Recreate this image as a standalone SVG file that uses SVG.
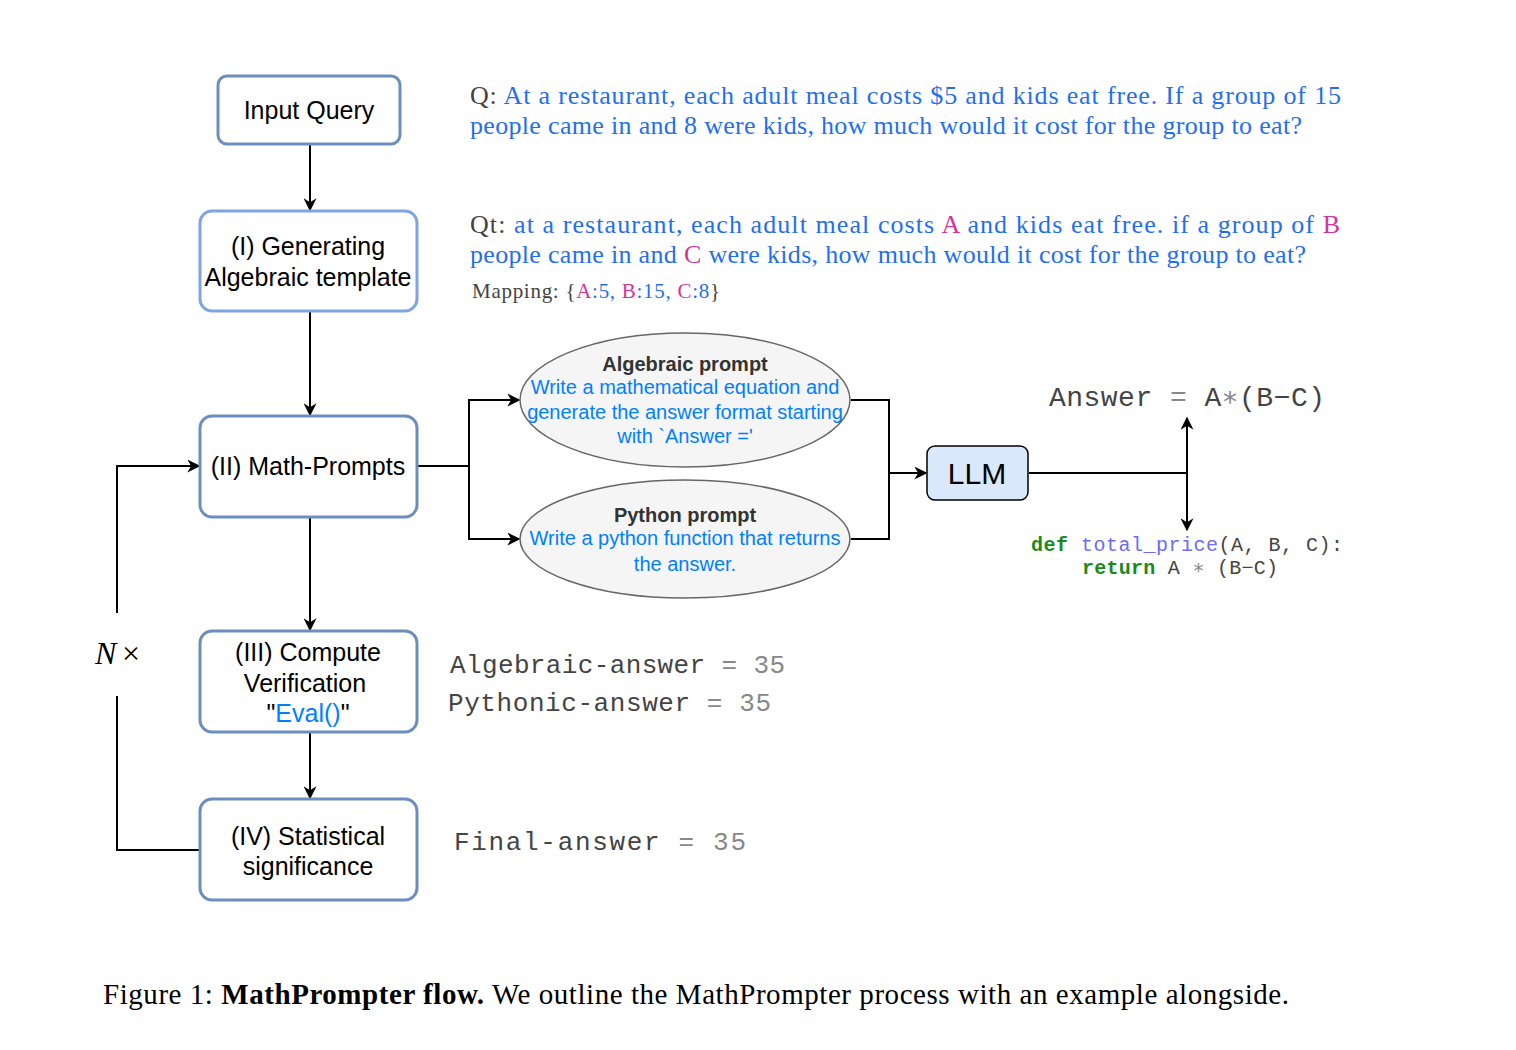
<svg xmlns="http://www.w3.org/2000/svg" width="1516" height="1050" viewBox="0 0 1516 1050">
<style>
.box{fill:#fff;stroke:#6c8ebf;stroke-width:3}
.box2{fill:#fff;stroke:#7ea6e0;stroke-width:3}
.bt{font-family:"Liberation Sans",Arial,sans-serif;font-size:25px;fill:#000;text-anchor:middle}
.ell{fill:#f5f5f5;stroke:#666;stroke-width:1.5}
.eh{font-family:"Liberation Sans",Arial,sans-serif;font-size:20px;font-weight:bold;fill:#333;text-anchor:middle}
.eb{font-family:"Liberation Sans",Arial,sans-serif;font-size:20px;fill:#007fff;text-anchor:middle}
.ser{font-family:"Liberation Serif","Times New Roman",serif;font-size:26px;fill:#1f6ff0}
.g{fill:#444}
.m{fill:#d6339a}
.mono{font-family:"Liberation Mono","Courier New",monospace;fill:#444}
.lt{fill:#888}
.conn{fill:none;stroke:#000;stroke-width:2}
</style>
<defs>
<marker id="ah" viewBox="0 0 10 10" refX="9" refY="5" markerWidth="13" markerHeight="13" markerUnits="userSpaceOnUse" orient="auto-start-reverse">
<path d="M0,0 L10,5 L0,10 L3,5 z" fill="#000"/>
</marker>
</defs>

<g id="connectors">
<line class="conn" x1="310" y1="144" x2="310" y2="210" marker-end="url(#ah)"/>
<line class="conn" x1="310" y1="312" x2="310" y2="415" marker-end="url(#ah)"/>
<line class="conn" x1="310" y1="518" x2="310" y2="630" marker-end="url(#ah)"/>
<line class="conn" x1="310" y1="733" x2="310" y2="798" marker-end="url(#ah)"/>
<polyline class="conn" points="200,850 117,850 117,696"/>
<polyline class="conn" points="117,613 117,466 199,466" marker-end="url(#ah)"/>
<polyline class="conn" points="418,466 469,466 469,400 519,400" marker-end="url(#ah)"/>
<polyline class="conn" points="469,466 469,539 519,539" marker-end="url(#ah)"/>
<polyline class="conn" points="851,400 889,400 889,539 851,539"/>
<line class="conn" x1="889" y1="473" x2="926" y2="473" marker-end="url(#ah)"/>
<line class="conn" x1="1029" y1="473" x2="1187" y2="473"/>
<line class="conn" x1="1187" y1="418" x2="1187" y2="530" marker-start="url(#ah)" marker-end="url(#ah)"/>
</g>

<g id="input-query">
<rect class="box" x="218" y="76" width="182" height="68" rx="9"/>
<text class="bt" x="309" y="119">Input Query</text>
</g>
<g id="gen-template">
<rect class="box2" x="200" y="211" width="217" height="100" rx="12"/>
<text class="bt" x="308" y="255">(I) Generating</text>
<text class="bt" x="308" y="286">Algebraic template</text>
</g>
<g id="math-prompts">
<rect class="box" x="200" y="416" width="217" height="101" rx="12"/>
<text class="bt" x="308" y="475">(II) Math-Prompts</text>
</g>
<g id="compute-verification">
<rect class="box" x="200" y="631" width="217" height="101" rx="12"/>
<text class="bt" x="308" y="661">(III) Compute</text>
<text class="bt" x="305" y="692">Verification</text>
<text class="bt" x="308" y="722">"<tspan fill="#007fff">Eval()</tspan>"</text>
</g>
<g id="statistical">
<rect class="box" x="200" y="799" width="217" height="101" rx="12"/>
<text class="bt" x="308" y="845">(IV) Statistical</text>
<text class="bt" x="308" y="875">significance</text>
</g>

<g id="algebraic-prompt">
<ellipse class="ell" cx="685" cy="400" rx="165" ry="67"/>
<text class="eh" x="685" y="371">Algebraic prompt</text>
<text class="eb" x="685" y="394">Write a mathematical equation and</text>
<text class="eb" x="685" y="419">generate the answer format starting</text>
<text class="eb" x="685" y="443">with `Answer ='</text>
</g>
<g id="python-prompt">
<ellipse class="ell" cx="685" cy="539" rx="165" ry="59"/>
<text class="eh" x="685" y="522">Python prompt</text>
<text class="eb" x="685" y="545">Write a python function that returns</text>
<text class="eb" x="685" y="571">the answer.</text>
</g>
<g id="llm">
<rect x="927" y="446" width="101" height="54" rx="8" fill="#dae8fc" stroke="#000" stroke-width="1.5"/>
<text x="977" y="484" font-family="'Liberation Sans',Arial,sans-serif" font-size="30" text-anchor="middle">LLM</text>
</g>

<g id="texts">
<text class="ser" x="470" y="104" textLength="871" lengthAdjust="spacing"><tspan class="g">Q:</tspan> At a restaurant, each adult meal costs $5 and kids eat free.  If a group of 15</text>
<text class="ser" x="470" y="134" textLength="832" lengthAdjust="spacing">people came in and 8 were kids, how much would it cost for the group to eat?</text>
<text class="ser" x="470" y="233" textLength="870" lengthAdjust="spacing"><tspan class="g">Qt:</tspan>  at a restaurant, each adult meal costs <tspan class="m">A</tspan> and kids eat free.  if a group of <tspan class="m">B</tspan></text>
<text class="ser" x="470" y="263" textLength="836" lengthAdjust="spacing">people came in and <tspan class="m">C</tspan> were kids, how much would it cost for the group to eat?</text>
<text class="ser" x="472" y="298" style="font-size:21px" textLength="248" lengthAdjust="spacing"><tspan class="g">Mapping: {</tspan><tspan class="m">A</tspan>:5, <tspan class="m">B</tspan>:15, <tspan class="m">C</tspan>:8<tspan class="g">}</tspan></text>

<text class="mono" x="1049" y="406" font-size="28" textLength="276" lengthAdjust="spacing">Answer <tspan class="lt">=</tspan> A<tspan class="lt">∗</tspan>(B−C)</text>
<text class="mono" x="1031" y="551" font-size="20" textLength="312" lengthAdjust="spacing"><tspan fill="#1a8a1a" font-weight="bold">def</tspan> <tspan fill="#6b6bf5">total_price</tspan>(A, B, C):</text>
<text class="mono" x="1082" y="574" font-size="20" textLength="196" lengthAdjust="spacing"><tspan fill="#1a8a1a" font-weight="bold">return</tspan> A <tspan class="lt">∗</tspan> (B−C)</text>

<text class="mono" x="450" y="673" font-size="26" textLength="335" lengthAdjust="spacing">Algebraic-answer <tspan class="lt">= 35</tspan></text>
<text class="mono" x="448" y="711" font-size="26" textLength="323" lengthAdjust="spacing">Pythonic-answer <tspan class="lt">= 35</tspan></text>
<text class="mono" x="454" y="850" font-size="26" textLength="292" lengthAdjust="spacing">Final-answer <tspan class="lt">= 35</tspan></text>

<text x="95" y="664" font-family="'Liberation Serif','Times New Roman',serif" font-size="32" fill="#000" textLength="45" lengthAdjust="spacing"><tspan font-style="italic">N</tspan>×</text>

<text x="103" y="1004" font-family="'Liberation Serif','Times New Roman',serif" font-size="29" fill="#000" textLength="1186" lengthAdjust="spacing">Figure 1: <tspan font-weight="bold">MathPrompter flow.</tspan> We outline the MathPrompter process with an example alongside.</text>
</g>
</svg>
